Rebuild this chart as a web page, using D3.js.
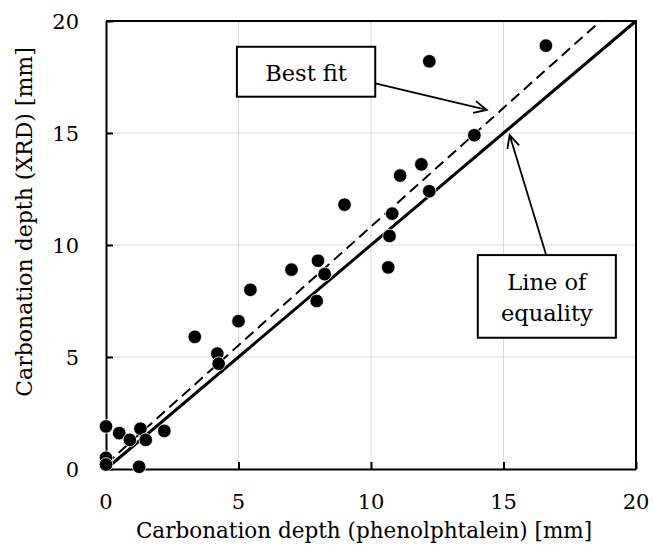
<!DOCTYPE html>
<html><head><meta charset="utf-8">
<script src="https://cdn.jsdelivr.net/npm/d3@7"></script>
<style>
html,body{margin:0;padding:0;background:#fff;}
svg{display:block;}
text{font-family:"DejaVu Serif","Liberation Serif",serif;fill:#000;}
</style></head>
<body><div id="chart"></div>
<script>
// Data
const phenolphthaleinDepth = [0, 0.5, 1.3, 0.9, 1.5, 2.2, 0, 0, 1.25, 3.35, 4.2, 4.25, 5.0, 5.45, 7.0, 8.0, 8.25, 7.95, 9.0, 10.65, 10.7, 10.8, 11.1, 11.9, 12.2, 12.2, 16.6, 13.9];
const xrdDepth            = [1.9, 1.6, 1.8, 1.3, 1.3, 1.7, 0.5, 0.2, 0.1, 5.9, 5.15, 4.7, 6.6, 8.0, 8.9, 9.3, 8.7, 7.5, 11.8, 9.0, 10.4, 11.4, 13.1, 13.6, 12.4, 18.2, 18.9, 14.9];
const xTicks = [0, 5, 10, 15, 20];
const yTicks = [0, 5, 10, 15, 20];
const bestFitSlope = 1.06;
const bestFitIntercept = 0.22;
const xTitle = "Carbonation depth (phenolphtalein) [mm]";
const yTitle = "Carbonation depth (XRD) [mm]";

const W = 653, H = 553;
const m = {left: 106, top: 21, right: 17, bottom: 84};
const iw = W - m.left - m.right, ih = H - m.top - m.bottom;

const svg = d3.select("#chart").append("svg").attr("width", W).attr("height", H);
const g = svg.append("g").attr("transform", `translate(${m.left},${m.top})`);

const x = d3.scaleLinear().domain([0, 20]).range([0, iw]);
const y = d3.scaleLinear().domain([0, 20]).range([ih, 0]);

// gridlines
g.append("g").selectAll("line").data(xTicks.slice(1, -1)).join("line")
  .attr("x1", d => x(d)).attr("x2", d => x(d)).attr("y1", 0).attr("y2", ih)
  .attr("stroke", "#d9d9d9").attr("stroke-width", 1);
g.append("g").selectAll("line").data(yTicks.slice(1, -1)).join("line")
  .attr("y1", d => y(d)).attr("y2", d => y(d)).attr("x1", 0).attr("x2", iw)
  .attr("stroke", "#d9d9d9").attr("stroke-width", 1);

// axes (inside ticks)
const xAxis = g.append("g").attr("transform", `translate(0,${ih})`)
  .call(d3.axisBottom(x).tickValues(xTicks).tickSizeInner(-7).tickSizeOuter(0).tickPadding(0).tickFormat(""));
const yAxis = g.append("g")
  .call(d3.axisLeft(y).tickValues(yTicks).tickSizeInner(-7).tickSizeOuter(0).tickFormat(""));
[xAxis, yAxis].forEach(a => {
  a.select(".domain").attr("stroke", "#000").attr("stroke-width", 2);
  a.selectAll(".tick line").attr("stroke", "#000").attr("stroke-width", 2);
});
// plot border top/right
g.append("path").attr("d", `M0,0H${iw}V${ih}`).attr("fill", "none").attr("stroke", "#000").attr("stroke-width", 2);

// tick labels
g.append("g").selectAll("text").data(xTicks).join("text")
  .attr("x", d => x(d)).attr("y", ih + 40).attr("text-anchor", "middle")
  .style("font-size", "21px").text(d => d);
g.append("g").selectAll("text").data(yTicks).join("text")
  .attr("x", -27).attr("y", d => y(d) + 7.5).attr("text-anchor", "end")
  .style("font-size", "21px").text(d => d);

// axis titles
svg.append("text").attr("x", 364).attr("y", 538).attr("text-anchor", "middle")
  .style("font-size", "21.5px").text(xTitle);
svg.append("text").attr("transform", "translate(32,222) rotate(-90)").attr("text-anchor", "middle")
  .style("font-size", "22px").text(yTitle);

// line of equality
g.append("line").attr("x1", x(0)).attr("y1", y(0)).attr("x2", x(20)).attr("y2", y(20))
  .attr("stroke", "#000").attr("stroke-width", 3);
// best fit
const xEnd = (20 - bestFitIntercept) / bestFitSlope;
g.append("line").attr("x1", x(0)).attr("y1", y(bestFitIntercept)).attr("x2", x(xEnd)).attr("y2", y(20))
  .attr("stroke", "#000").attr("stroke-width", 2).attr("stroke-dasharray", "11,6");

// points
g.append("g").selectAll("circle").data(d3.range(phenolphthaleinDepth.length)).join("circle")
  .attr("cx", i => x(phenolphthaleinDepth[i])).attr("cy", i => y(xrdDepth[i]))
  .attr("r", 6.8).attr("fill", "#000").attr("stroke", "#fff").attr("stroke-width", 0.8);

// annotations (in data units)
function openArrow(x0, y0, x1, y1) {
  const a = Math.atan2(y1 - y0, x1 - x0), L = 14, s = 0.45;
  g.append("path")
    .attr("d", `M${x0},${y0}L${x1},${y1}M${x1 - L*Math.cos(a - s)},${y1 - L*Math.sin(a - s)}L${x1},${y1}L${x1 - L*Math.cos(a + s)},${y1 - L*Math.sin(a + s)}`)
    .attr("fill", "none").attr("stroke", "#000").attr("stroke-width", 1.8);
}
// Best fit box
openArrow(x(10.16), y(17.22), x(14.37), y(16.03));
g.append("rect").attr("x", x(4.94)).attr("y", y(18.85)).attr("width", x(10.16) - x(4.94)).attr("height", y(16.62) - y(18.85))
  .attr("fill", "#fff").attr("stroke", "#000").attr("stroke-width", 2);
g.append("text").attr("x", (x(4.94) + x(10.16)) / 2).attr("y", y(17.3)).attr("text-anchor", "middle")
  .style("font-size", "22.5px").text("Best fit");
// Line of equality box
openArrow(x(16.61), y(9.55), x(15.23), y(14.91));
g.append("rect").attr("x", x(14.03)).attr("y", y(9.55)).attr("width", x(19.24) - x(14.03)).attr("height", y(5.86) - y(9.55))
  .attr("fill", "#fff").attr("stroke", "#000").attr("stroke-width", 2);
const lt = g.append("text").attr("text-anchor", "middle").style("font-size", "22.5px");
lt.append("tspan").attr("x", (x(14.03) + x(19.24)) / 2).attr("y", y(8.0)).text("Line of");
lt.append("tspan").attr("x", (x(14.03) + x(19.24)) / 2).attr("y", y(6.6)).text("equality");
</script></body></html>
